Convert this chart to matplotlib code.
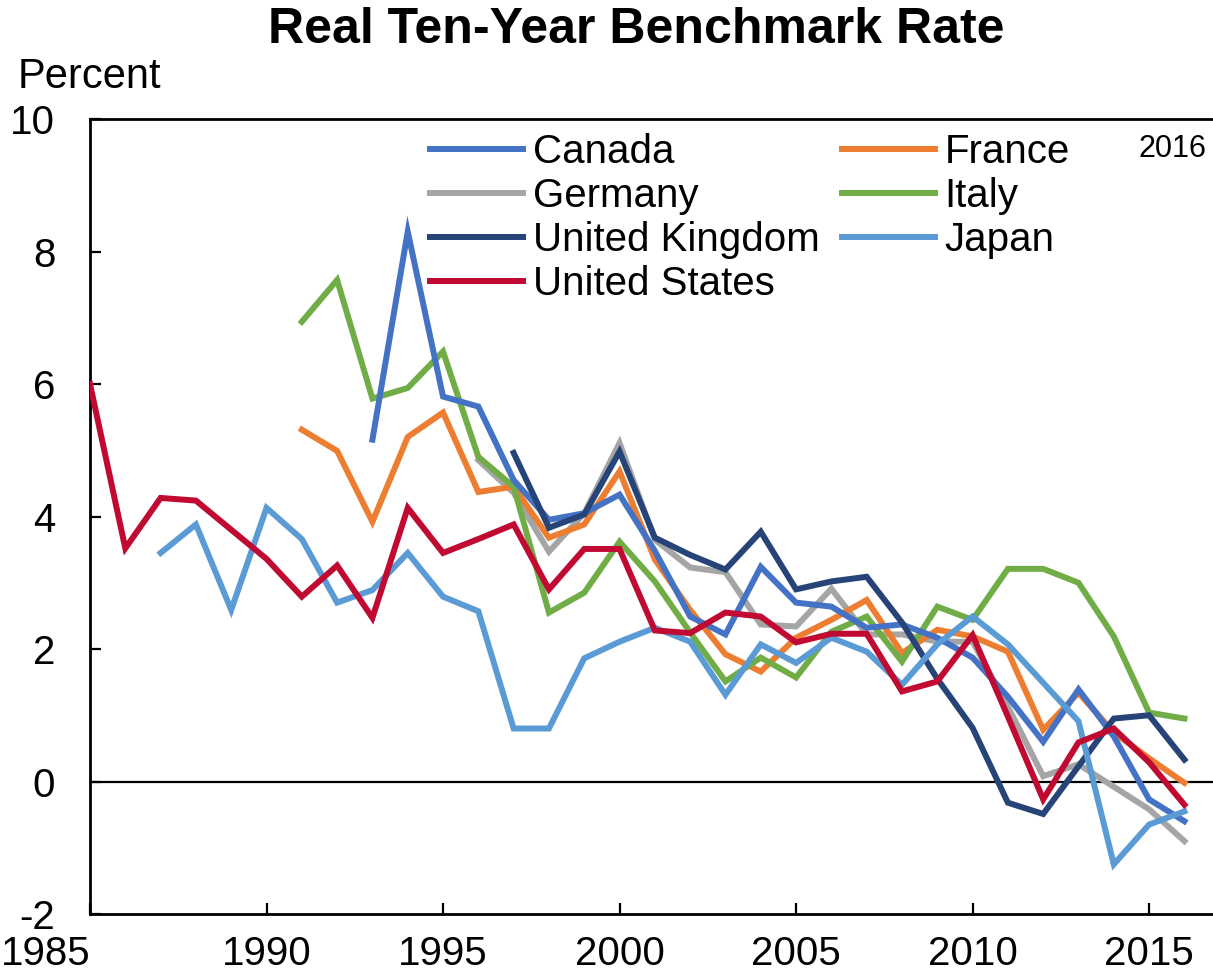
import matplotlib
matplotlib.use('Agg')
import matplotlib.pyplot as plt

plt.rcParams['font.family'] = ['Liberation Sans', 'DejaVu Sans']
plt.rcParams['axes.unicode_minus'] = False

years = list(range(1985, 2017))

# real ten-year rates, percent (None = no data)
canada = [None] * 8 + [5.16, 8.30, 5.81, 5.66, 4.55, 3.95, 4.05, 4.33, 3.48, 2.49, 2.22, 3.24,
                       2.70, 2.64, 2.32, 2.37, 2.17, 1.87, 1.28, 0.60, 1.39, 0.68, -0.27, -0.60]
france = [None] * 6 + [5.31, 4.99, 3.92, 5.20, 5.57, 4.37, 4.45, 3.68, 3.88, 4.68, 3.35, 2.59,
                       1.92, 1.66, 2.17, 2.44, 2.74, 1.94, 2.29, 2.19, 1.96, 0.78, 1.34, 0.74,
                       0.35, -0.02]
germany = [None] * 11 + [4.85, 4.36, 3.47, 4.05, 5.11, 3.65, 3.23, 3.16, 2.37, 2.34, 2.91, 2.22,
                         2.22, 2.11, 2.11, 1.13, 0.08, 0.26, -0.08, -0.42, -0.90]
italy = [None] * 6 + [6.94, 7.57, 5.78, 5.94, 6.49, 4.90, 4.45, 2.55, 2.85, 3.62, 3.02, 2.25,
                      1.51, 1.87, 1.57, 2.26, 2.49, 1.81, 2.64, 2.44, 3.21, 3.21, 3.00, 2.19,
                      1.04, 0.95]
uk = [None] * 12 + [4.96, 3.83, 4.03, 4.98, 3.68, 3.42, 3.20, 3.77, 2.90, 3.02, 3.09, 2.40,
                    1.55, 0.81, -0.32, -0.49, 0.23, 0.95, 1.00, 0.33]
japan = [None] * 2 + [3.45, 3.88, 2.59, 4.13, 3.66, 2.70, 2.89, 3.45, 2.79, 2.57, 0.80, 0.80,
                      1.86, 2.11, 2.32, 2.11, 1.31, 2.07, 1.79, 2.17, 1.96, 1.46, 2.07, 2.49,
                      2.07, 1.49, 0.91, -1.25, -0.65, -0.45]
us = [6.0, 3.52, 4.28, 4.24, 3.80, 3.36, 2.79, 3.26, 2.47, 4.13, 3.45, 3.66, 3.88, 2.90, 3.51,
      3.51, 2.28, 2.24, 2.55, 2.49, 2.10, 2.23, 2.23, 1.36, 1.51, 2.21, 0.98, -0.27, 0.59,
      0.80, 0.29, -0.35]

series = [
    ('Canada', canada, '#4472C4'),
    ('Germany', germany, '#A5A5A5'),
    ('United Kingdom', uk, '#264478'),
    ('United States', us, '#C00A32'),
    ('France', france, '#ED7D31'),
    ('Italy', italy, '#70AD47'),
    ('Japan', japan, '#5B9BD5'),
]
# drawing order (US on top)
draw_order = ['Germany', 'France', 'Italy', 'Canada', 'United Kingdom', 'Japan', 'United States']

fig = plt.figure(figsize=(12.13, 9.72), dpi=100)
ax = fig.add_axes([90 / 1213, 58 / 972, 1 - 90 / 1213, (914 - 119) / 972])

handles = {}
for name, vals, col in series:
    xs = [y for y, v in zip(years, vals) if v is not None]
    vs = [v for v in vals if v is not None]
    z = 3 + draw_order.index(name)
    line, = ax.plot(xs, vs, color=col, lw=4.3, label=name, zorder=z, solid_joinstyle='miter')
    handles[name] = line

ax.axhline(0, color='black', lw=1.6, zorder=2)

ax.set_xlim(1985, 2016.81)
ax.set_ylim(-2, 10)
ax.set_xticks(range(1985, 2016, 5))
ax.set_yticks(range(-2, 11, 2))
ax.tick_params(axis='both', direction='in', length=8, width=1.6, labelsize=29)
ax.tick_params(axis='y', pad=25)
ax.tick_params(axis='x', pad=15)
# first year label sits flush with the left edge
ax.get_xticklabels()[0].set_horizontalalignment('right')
for s in ['left', 'bottom', 'top']:
    ax.spines[s].set_linewidth(2)
ax.spines['right'].set_visible(False)

leg = ax.legend([handles[n] for n, _, _ in series], [n for n, _, _ in series],
                ncol=2, loc='upper left', bbox_to_anchor=(0.303, 0.982), frameon=False,
                fontsize=29, handlelength=2.3, handletextpad=0.25, columnspacing=0.55,
                labelspacing=0.15, borderpad=0, borderaxespad=0)

ax.text(2015.65, 9.55, '2016', fontsize=22, ha='center', va='center')

fig.text(636 / 1213, 1 - 30 / 972, 'Real Ten-Year Benchmark Rate', fontsize=36,
         fontweight='bold', ha='center', va='center')
fig.text(18 / 1213, 1 - 77 / 972, 'Percent', fontsize=30, ha='left', va='center')

fig.savefig('out.png', dpi=100)
